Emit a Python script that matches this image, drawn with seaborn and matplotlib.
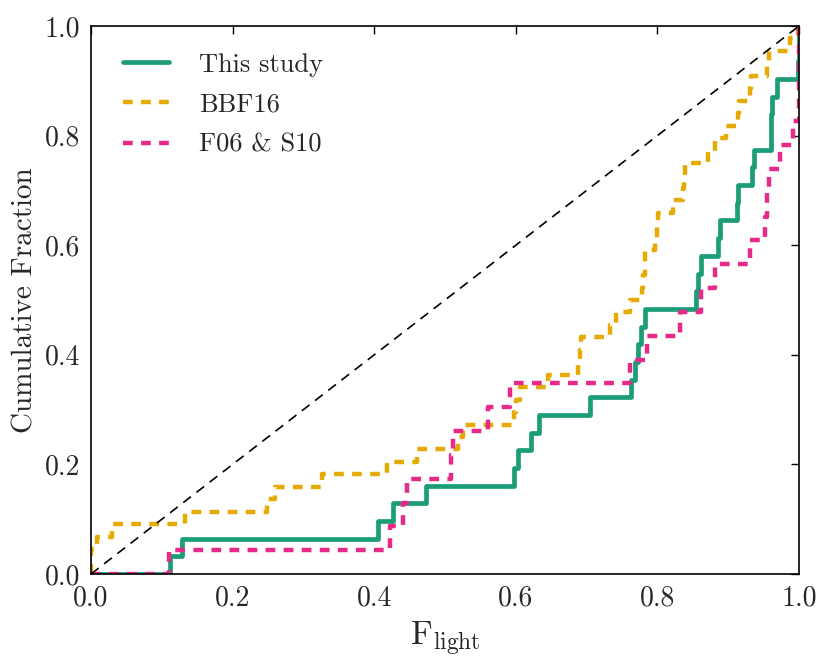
import matplotlib
matplotlib.use("Agg")
import matplotlib.pyplot as plt
import numpy as np
import pandas as pd
import seaborn as sns

# F_light values per sample
this_study = [0.112, 0.128, 0.405, 0.427, 0.473, 0.597, 0.603, 0.622, 0.633,
              0.705, 0.763, 0.768, 0.773, 0.777, 0.782, 0.855, 0.858, 0.862,
              0.885, 0.888, 0.912, 0.914, 0.933, 0.936, 0.960, 0.961, 0.962,
              0.969, 0.999, 1.0, 1.0]
bbf16 = [0.0, 0.0, 0.008, 0.029, 0.133, 0.248, 0.26, 0.326, 0.418, 0.46,
         0.518, 0.526, 0.598, 0.600, 0.606, 0.645, 0.688, 0.690, 0.692, 0.733,
         0.742, 0.761, 0.778, 0.780, 0.782, 0.783, 0.797, 0.799, 0.801, 0.822,
         0.836, 0.837, 0.839, 0.871, 0.881, 0.897, 0.914, 0.915, 0.931, 0.932,
         0.955, 0.957, 0.987, 0.999]
f06_s10 = [0.110, 0.422, 0.440, 0.447, 0.509, 0.511, 0.561, 0.592, 0.762,
           0.785, 0.832, 0.862, 0.881, 0.931, 0.952, 0.955, 0.958, 0.973,
           0.992, 1.0, 1.0, 1.0, 1.0]
labels = ["This study", "BBF16", "F06 & S10"]
colors = ["#1b9e77", "#e6ab02", "#e7298a"]
ticks = [0.0, 0.2, 0.4, 0.6, 0.8, 1.0]


def cumulative(values):
    # step curve starting at (0, 0), one step of 1/N per sample
    v = np.sort(np.asarray(values, dtype=float))
    x = np.concatenate([[0.0], v])
    y = np.arange(len(v) + 1) / len(v)
    return pd.DataFrame({"x": x, "y": y})


sns.set_style("white")
plt.rcParams["font.family"] = ["cmr10", "DejaVu Serif"]
plt.rcParams["mathtext.fontset"] = "cm"
plt.rcParams["axes.formatter.use_mathtext"] = True
plt.rcParams["lines.scale_dashes"] = False

fig = plt.figure(figsize=(8.31, 6.67), dpi=100)
ax = fig.add_axes([0.1095, 0.1394, 0.852, 0.8216])

styles = [dict(lw=3.4), dict(lw=3.2, dashes=(7, 6)), dict(lw=3.2, dashes=(7, 6))]
for data, lab, col, st in zip([this_study, bbf16, f06_s10], labels, colors, styles):
    df = cumulative(data)
    sns.lineplot(data=df, x="x", y="y", ax=ax, color=col, label=lab,
                 drawstyle="steps-post", sort=False, estimator=None, **st)
ax.plot(ticks[::5], ticks[::5], color="black", lw=1.2, dashes=(7, 5))

ax.set_xlim(0, 1)
ax.set_ylim(0, 1)
ax.set_xticks(ticks)
ax.set_yticks(ticks)
ax.set_xticklabels([f"{t:.1f}" for t in ticks])
ax.set_yticklabels([f"{t:.1f}" for t in ticks])
ax.tick_params(direction="in", top=True, right=True, length=6, width=1,
               labelsize=20, pad=8, color="black")
for s in ax.spines.values():
    s.set_color("black")
    s.set_linewidth(1.2)

ax.set_xlabel(r"$\mathrm{F_{light}}$", fontsize=24, labelpad=6)
ax.set_ylabel("Cumulative Fraction", fontsize=21, labelpad=4)

ax.legend(loc="upper left", bbox_to_anchor=(0.045, 0.951), frameon=False,
          fontsize=19, handlelength=1.75, handletextpad=1.15,
          labelspacing=0.62, borderaxespad=0, borderpad=0)

fig.savefig("out.png", dpi=100)
